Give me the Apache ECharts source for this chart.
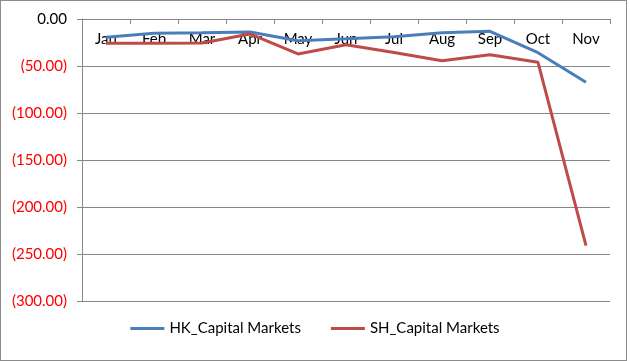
<!DOCTYPE html>
<html>
<head>
<meta charset="utf-8">
<script src="https://cdn.jsdelivr.net/npm/echarts@6/dist/echarts.min.js"></script>
<style>
  body, html { margin: 0; padding: 0; background: #ffffff; }
  #frame {
    position: absolute; left: 0; top: 0;
    width: 625px; height: 359px;
    border: 1px solid #8c8c8c;
  }
  #chart { position: absolute; left: 0; top: 0; width: 630px; height: 361px; }
</style>
</head>
<body>
<div id="frame"></div>
<div id="chart"></div>
<script type="text/javascript">
  // months along the top axis
  const months = ["Jan", "Feb", "Mar", "Apr", "May", "Jun", "Jul", "Aug", "Sep", "Oct", "Nov"];
  // values (all negative)
  const hkCapital = [-19.5, -15.2, -14.6, -13.8, -23.1, -21.0, -18.8, -14.6, -13.1, -35.8, -67.3];
  const shCapital = [-25.8, -25.8, -25.5, -15.9, -37.2, -27.3, -35.7, -44.4, -38.0, -46.1, -241.0];
  const seriesNames = ["HK_Capital Markets", "SH_Capital Markets"];

  const font = "Lato, 'Open Sans', sans-serif";
  const gridGray = "#868686";

  function formatNumber(value) {
    let abs = Math.abs(value).toFixed(2);
    return value < 0 ? "(" + abs + ")" : abs;
  }

  let chart = echarts.init(document.getElementById("chart"));
  let option = {
    animation: false,
    backgroundColor: "transparent",
    grid: { left: 82, right: 20, top: 19, bottom: 60 },
    legend: {
      bottom: 20,
      left: "center",
      itemWidth: 34,
      itemHeight: 3,
      itemGap: 30,
      icon: "rect",
      textStyle: { fontFamily: font, fontSize: 15, color: "#000" },
      data: seriesNames
    },
    xAxis: {
      type: "category",
      position: "top",
      data: months,
      boundaryGap: true,
      axisLine: { lineStyle: { color: gridGray, width: 1 } },
      axisTick: { show: true, inside: true, length: 5, lineStyle: { color: gridGray } },
      axisLabel: {
        inside: true,
        margin: 13,
        interval: 0,
        fontFamily: font,
        fontSize: 15,
        color: "#000"
      }
    },
    yAxis: {
      type: "value",
      min: -300,
      max: 0,
      interval: 50,
      axisLine: { show: true, lineStyle: { color: gridGray, width: 1 } },
      axisTick: { show: true, length: 5, lineStyle: { color: gridGray } },
      splitLine: { show: true, lineStyle: { color: gridGray, width: 1 } },
      axisLabel: {
        margin: 15,
        fontFamily: font,
        fontSize: 15,
        formatter: formatNumber,
        color: function (value) {
          return Number(value) < 0 ? "#ff0000" : "#000000";
        }
      }
    },
    series: [
      {
        name: seriesNames[0],
        type: "line",
        data: hkCapital,
        symbol: "none",
        lineStyle: { color: "#4a7ebb", width: 3 },
        itemStyle: { color: "#4a7ebb" }
      },
      {
        name: seriesNames[1],
        type: "line",
        data: shCapital,
        symbol: "none",
        lineStyle: { color: "#be4b48", width: 3 },
        itemStyle: { color: "#be4b48" }
      }
    ]
  };
  chart.setOption(option);
</script>
</body>
</html>
